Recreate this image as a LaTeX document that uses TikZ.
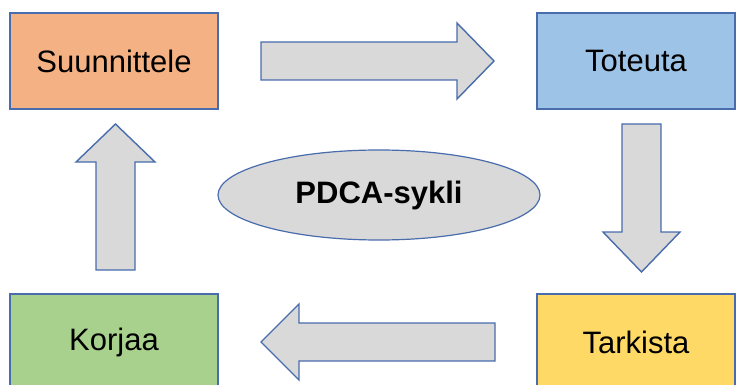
\documentclass[tikz,border=0pt]{standalone}
\usepackage{fontspec}
\setmainfont{Liberation Sans}
\usetikzlibrary{shapes.geometric}
\definecolor{edgeblue}{RGB}{72,108,172}
\definecolor{orangefill}{RGB}{244,177,131}
\definecolor{bluefill}{RGB}{157,195,230}
\definecolor{greenfill}{RGB}{169,209,142}
\definecolor{yellowfill}{RGB}{255,217,102}
\definecolor{grayfill}{RGB}{217,217,217}
\tikzset{
  stepbox/.style={draw=edgeblue, line width=1.4pt, minimum width=208pt, minimum height=96pt, inner sep=0pt, font=\fontsize{31}{36}\selectfont, text=black},
  blockarrow/.style={draw=edgeblue, fill=grayfill, line width=1.4pt, line join=miter},
}
\begin{document}
\begin{tikzpicture}[x=1pt,y=-1pt]
\useasboundingbox (0,0) rectangle (736,385);
\clip (0,0) rectangle (736,385);
\node[stepbox, fill=orangefill] (plan) at (114,61) {Suunnittele};
\node[stepbox, fill=bluefill, minimum width=198pt] (do) at (636,61) {Toteuta};
\node[stepbox, fill=yellowfill, minimum width=198pt] (check) at (636,342) {Tarkista};
\node[stepbox, fill=greenfill] (act) at (114,342) {Korjaa};
\node[ellipse, draw=edgeblue, fill=grayfill, line width=1.2pt, minimum width=322pt, minimum height=90pt, inner sep=0pt, font=\bfseries\fontsize{31}{36}\selectfont] (pdca) at (379,195) {PDCA-sykli};
% right arrow
\draw[blockarrow] (261,42) -- (457,42) -- (457,23) -- (494,61) -- (457,99) -- (457,80) -- (261,80) -- cycle;
% down arrow
\draw[blockarrow] (622,124) -- (661,124) -- (661,232) -- (680,232) -- (641.5,272) -- (603,232) -- (622,232) -- cycle;
% left arrow
\draw[blockarrow] (495,323) -- (299,323) -- (299,304) -- (261,342) -- (299,380) -- (299,361) -- (495,361) -- cycle;
% up arrow
\draw[blockarrow] (96,270) -- (96,162) -- (76,162) -- (115.5,124) -- (155,162) -- (135,162) -- (135,270) -- cycle;
\end{tikzpicture}
\end{document}
